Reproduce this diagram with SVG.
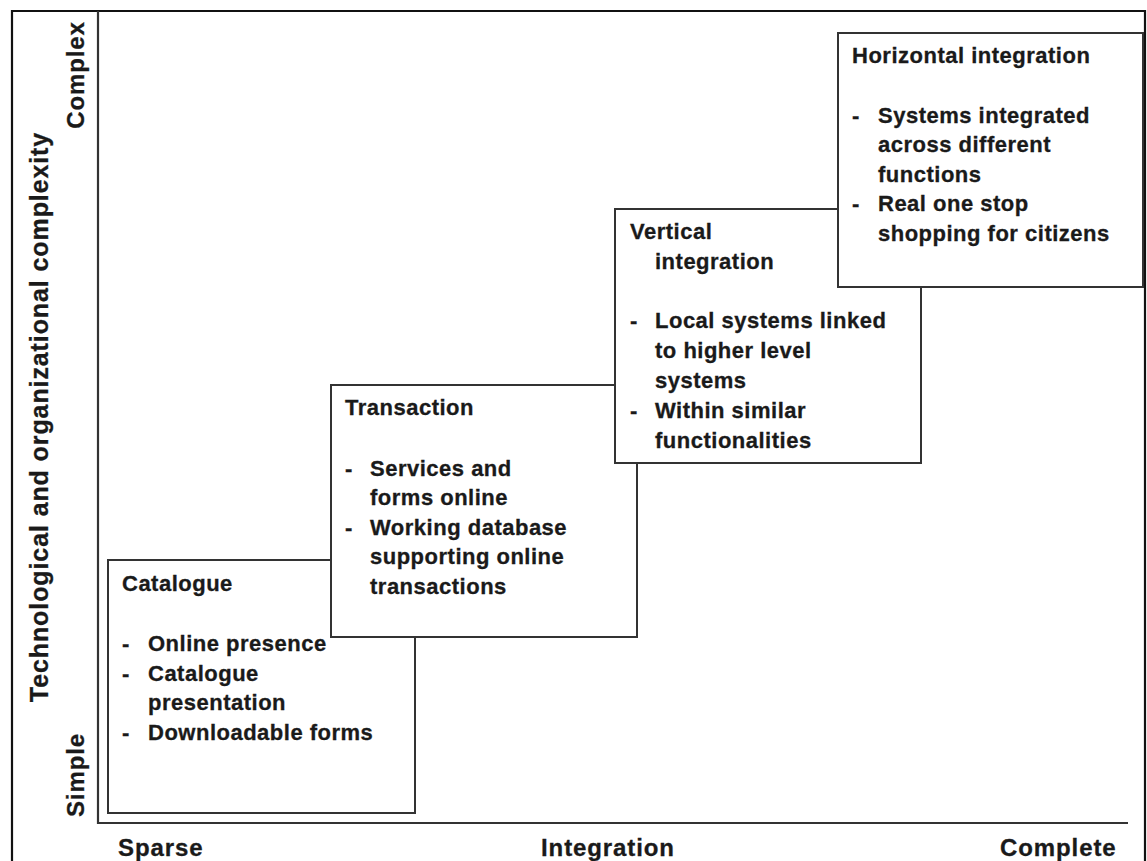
<svg xmlns="http://www.w3.org/2000/svg" width="1147" height="861" viewBox="0 0 1147 861">
<style>
  .frame { stroke: #111; stroke-width: 2.2; fill: none; }
  .axis { stroke: #333; stroke-width: 2.2; fill: none; }
  .box { fill: #fff; stroke: #333; stroke-width: 2; }
  text { font-family: "Liberation Sans", Arial, sans-serif; font-weight: bold; fill: #1a1a1a; stroke: #1a1a1a; stroke-width: 0.3px; }
  .t { font-size: 22px; letter-spacing: 0.5px; }
  .ax { font-size: 24px; letter-spacing: 0.9px; }
  .axl { font-size: 25px; letter-spacing: 0.9px; }
</style>
<rect x="0" y="0" width="1147" height="861" fill="#fff"/>
<g id="frame">
  <path class="frame" d="M12,861 V11 H1145 V861"/>
</g>
<g id="axes">
  <path class="axis" d="M98,11 V823 H1128"/>
  <text class="axl" transform="translate(48,417) rotate(-90)" text-anchor="middle">Technological and organizational complexity</text>
  <text class="ax" transform="translate(84,75) rotate(-90)" text-anchor="middle">Complex</text>
  <text class="ax" transform="translate(84,775) rotate(-90)" text-anchor="middle">Simple</text>
  <text class="ax" x="118" y="856">Sparse</text>
  <text class="ax" x="541" y="856">Integration</text>
  <text class="ax" x="1000" y="856">Complete</text>
</g>
<g id="catalogue">
  <rect class="box" x="108" y="560" width="307" height="253"/>
  <text class="t" x="122" y="591">Catalogue</text>
  <text class="t" x="122" y="651">-</text>
  <text class="t" x="148" y="651">Online presence</text>
  <text class="t" x="122" y="681">-</text>
  <text class="t" x="148" y="681">Catalogue</text>
  <text class="t" x="148" y="710">presentation</text>
  <text class="t" x="122" y="740">-</text>
  <text class="t" x="148" y="740">Downloadable forms</text>
</g>
<g id="transaction">
  <rect class="box" x="331" y="385" width="306" height="252"/>
  <text class="t" x="345" y="415">Transaction</text>
  <text class="t" x="345" y="476">-</text>
  <text class="t" x="370" y="476">Services and</text>
  <text class="t" x="370" y="505">forms online</text>
  <text class="t" x="345" y="535">-</text>
  <text class="t" x="370" y="535">Working database</text>
  <text class="t" x="370" y="564">supporting online</text>
  <text class="t" x="370" y="594">transactions</text>
</g>
<g id="vertical">
  <rect class="box" x="615" y="209" width="306" height="254"/>
  <text class="t" x="630" y="239">Vertical</text>
  <text class="t" x="655" y="269">integration</text>
  <text class="t" x="630" y="328">-</text>
  <text class="t" x="655" y="328">Local systems linked</text>
  <text class="t" x="655" y="358">to higher level</text>
  <text class="t" x="655" y="388">systems</text>
  <text class="t" x="630" y="418">-</text>
  <text class="t" x="655" y="418">Within similar</text>
  <text class="t" x="655" y="448">functionalities</text>
</g>
<g id="horizontal">
  <rect class="box" x="838" y="33" width="305" height="254"/>
  <text class="t" x="852" y="63">Horizontal integration</text>
  <text class="t" x="852" y="123">-</text>
  <text class="t" x="878" y="123">Systems integrated</text>
  <text class="t" x="878" y="152">across different</text>
  <text class="t" x="878" y="182">functions</text>
  <text class="t" x="852" y="211">-</text>
  <text class="t" x="878" y="211">Real one stop</text>
  <text class="t" x="878" y="241">shopping for citizens</text>
</g>
<g id="connectors"></g>
</svg>
